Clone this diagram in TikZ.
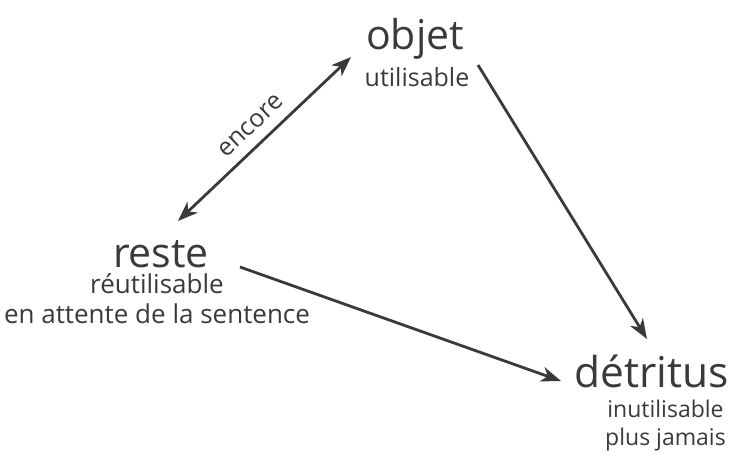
\documentclass[tikz,border=0pt]{standalone}
\usepackage{fontspec}
\setmainfont{Open Sans}
\usetikzlibrary{arrows.meta}
\definecolor{ink}{HTML}{3A3A3A}
\tikzset{
  lbl/.style={inner sep=0pt, anchor=base, text=ink},
  big/.style={lbl, font=\fontsize{41}{41}\selectfont},
  small/.style={lbl, font=\fontsize{26}{26}\selectfont},
  conn/.style={draw=ink, line width=2.8pt, -{Stealth[length=20pt,width=15pt,inset=6pt]}},
}
\begin{document}
\begin{tikzpicture}[x=1pt,y=-1pt]
\useasboundingbox (0,0) rectangle (729,463);
\node[big] (objet) at (415,49) {objet};
\node[small, font=\fontsize{25}{25}\selectfont] (objetsub) at (417,86) {utilisable};
\node[big] (reste) at (161,267) {reste};
\node[small] (restesub) at (157,293) {réutilisable};
\node[small] (restesub2) at (157,323) {en attente de la sentence};
\node[big, font=\fontsize{42.5}{42.5}\selectfont] (detritus) at (651.5,387) {détritus};
\node[small, font=\fontsize{23}{23}\selectfont] (detsub) at (665.5,417) {inutilisable};
\node[small, font=\fontsize{23}{23}\selectfont] (detsub2) at (665.5,445) {plus jamais};
\coordinate (objetOut) at (478,65);
\coordinate (objetIn) at (351,57);
\coordinate (resteOut) at (240,267);
\coordinate (resteIn) at (178,221);
\coordinate (detIn1) at (647,339);
\coordinate (detIn2) at (561,381);
\draw[conn, {Stealth[length=20pt,width=15pt,inset=6pt]}-{Stealth[length=20pt,width=15pt,inset=6pt]}] (resteIn) -- (objetIn);
\node[inner sep=0pt, text=ink, rotate=43.6, font=\fontsize{25}{25}\selectfont] (encore) at (251,126) {encore};
\draw[conn] (objetOut) -- (detIn1);
\draw[conn] (resteOut) -- (detIn2);
\end{tikzpicture}
\end{document}
